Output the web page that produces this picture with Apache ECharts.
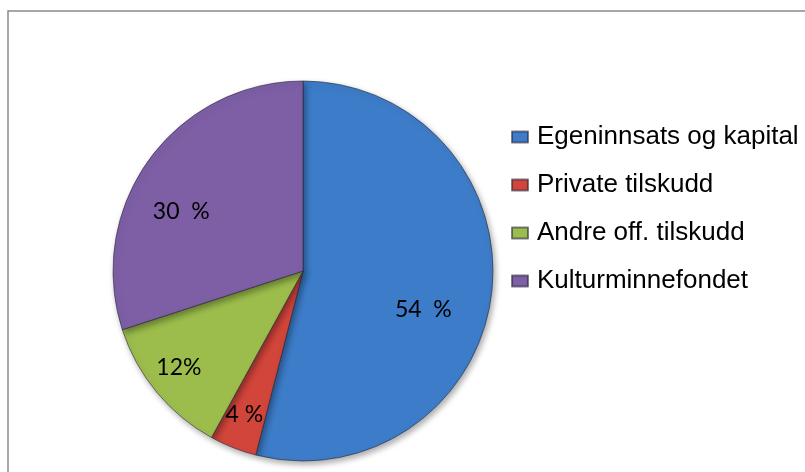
<!DOCTYPE html>
<html>
<head>
<meta charset="utf-8">
<script src="https://cdn.jsdelivr.net/npm/echarts@6/dist/echarts.min.js"></script>
<style>
  html, body { margin: 0; padding: 0; background: #fff; }
  #chart { width: 805px; height: 472px; }
</style>
</head>
<body>
<div id="chart"></div>
<script>
  // data
  const categories = ['Egeninnsats og kapital', 'Private tilskudd', 'Andre off. tilskudd', 'Kulturminnefondet'];
  const values = [54, 4, 12, 30];
  const labels = ['54  %', '4 %', '12%', '30  %'];

  const colors = ['#3d7cc8', '#d2453b', '#9cbd4c', '#7e5fa6'];
  // small hand nudges, the original labels were dragged a bit
  const labelNudge = [[-24, 20], [-5, 8], [-12, 4], [-4, 26]];

  const chart = echarts.init(document.getElementById('chart'));

  const pieData = categories.map((name, i) => ({
    name,
    value: values[i],
    itemStyle: { color: colors[i] },
  }));

  const labelData = categories.map((name, i) => ({
    name,
    value: values[i],
    label: { formatter: labels[i], offset: labelNudge[i] },
  }));

  chart.setOption({
    animation: false,
    graphic: [
      {
        type: 'rect',
        shape: { x: 8, y: 11, width: 830, height: 500 },
        style: { fill: 'none', stroke: '#8a8a8a', lineWidth: 1.5 },
        silent: true,
      },
    ],
    legend: {
      orient: 'vertical',
      left: 506,
      top: 119,
      itemWidth: 16,
      itemHeight: 11,
      itemGap: 22,
      icon: 'rect',
      data: categories,
      textStyle: {
        fontFamily: 'Liberation Sans, Arial, sans-serif',
        fontSize: 26,
        lineHeight: 26,
        color: '#000',
        padding: [0, 0, 0, 4],
      },
    },
    series: [
      {
        type: 'pie',
        center: [303, 271],
        radius: [0, 190],
        startAngle: 90,
        clockwise: true,
        label: { show: false },
        labelLine: { show: false },
        emphasis: { disabled: true },
        itemStyle: {
          borderColor: 'rgba(40,40,60,0.6)',
          borderWidth: 1,
          shadowBlur: 6,
          shadowOffsetX: 2,
          shadowOffsetY: 3,
          shadowColor: 'rgba(0,0,0,0.35)',
        },
        data: pieData,
      },
      {
        // transparent ring only to place the labels further out
        type: 'pie',
        center: [303, 271],
        radius: [95, 190],
        startAngle: 90,
        clockwise: true,
        silent: true,
        legendHoverLink: false,
        itemStyle: { color: 'rgba(0,0,0,0)' },
        label: {
          show: true,
          position: 'inside',
          color: '#000',
          fontFamily: 'Lato, "Open Sans", sans-serif',
          fontSize: 23,
        },
        labelLine: { show: false },
        emphasis: { disabled: true },
        data: labelData,
      },
    ],
  });
</script>
</body>
</html>
